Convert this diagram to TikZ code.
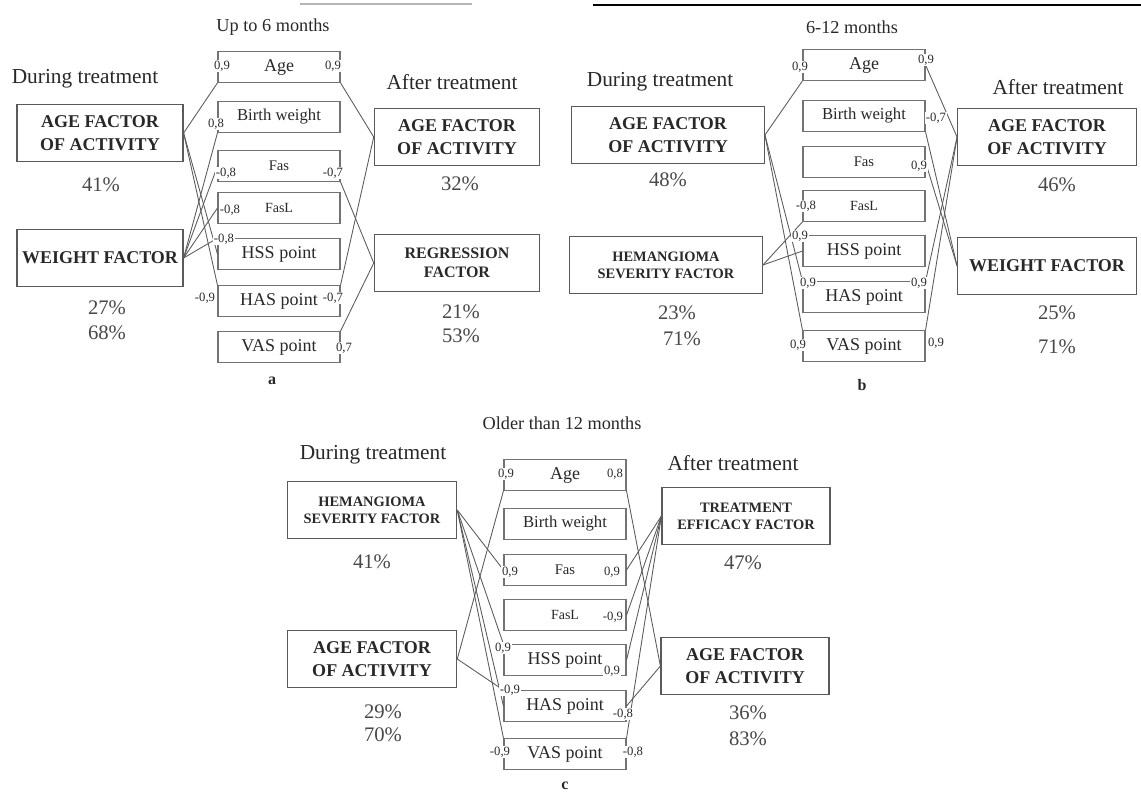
\documentclass[tikz,border=0pt]{standalone}
\usepackage{fontspec}
\setmainfont{Liberation Serif}
\usetikzlibrary{positioning}
\definecolor{inkgray}{RGB}{40,40,40}
\definecolor{linegray}{RGB}{90,90,90}

\begin{document}
\begin{tikzpicture}[
    x=0.75pt, y=-0.75pt,
    every node/.style={text=inkgray},
    fbox/.style={draw=linegray, line width=0.9pt, minimum width=#1, minimum height=43pt,
                 align=center, inner sep=2pt, font=\fontsize{13.5}{17}\selectfont\bfseries},
    item/.style={draw=linegray!85, line width=0.8pt, minimum width=91.5pt, minimum height=23pt,
                 inner sep=1pt},
    num/.style={fill=white, inner sep=0.5pt, font=\fontsize{9.5}{10}\selectfont},
    hd/.style={font=\fontsize{16}{18}\selectfont},
    sub/.style={font=\fontsize{13.7}{15}\selectfont},
    pct/.style={font=\fontsize{15.5}{16}\selectfont, text=inkgray!85},
    link/.style={draw=linegray, line width=0.65pt}
  ]
    \useasboundingbox (0,0) rectangle (1141,794);
    % Reste der vorigen Abbildung am oberen Rand
    \draw[linegray!45, line width=0.8pt] (300,4) -- (472,4);
    \draw[black, line width=2.2pt] (593,5) -- (1141,5);

    % ---- a: Up to 6 months ----
    \node[sub] (a-title) at (273,27) {Up to 6 months};
    \node[hd] (a-during) at (85,79) {During treatment};
    \node[hd] (a-after) at (452,82) {After treatment};
    \foreach \n/\y/\t/\s in {1/67/Age/13.5, 2/117/Birth weight/12.5, 3/166/Fas/11,
        4/208/FasL/10.5, 5/254/HSS point/13.5, 6/301/HAS point/13.5, 7/347/VAS point/13.5}
      \node[item, font=\fontsize{\s}{\s}\selectfont] (a\n) at (279,\y) {\t};
    \node[fbox=124.5pt] (aL1) at (100,133) {AGE FACTOR\\OF ACTIVITY};
    \node[fbox=124.5pt] (aL2) at (100,258) {WEIGHT FACTOR};
    \node[fbox=124pt] (aR1) at (457,137) {AGE FACTOR\\OF ACTIVITY};
    \node[fbox=124pt, font=\fontsize{12}{14}\selectfont\bfseries] (aR2) at (457,263) {REGRESSION\\FACTOR};
    \node[pct] (a-p1) at (101,185) {41\%};
    \node[pct] (a-p2) at (107,308) {27\%};
    \node[pct] (a-p3) at (107,333) {68\%};
    \node[pct] (a-p4) at (460,184) {32\%};
    \node[pct] (a-p5) at (461,312) {21\%};
    \node[pct] (a-p6) at (461,336) {53\%};
    \node[font=\fontsize{12}{12}\selectfont\bfseries] (a-tag) at (272,381) {a};
    \draw[link] (aL1.east) -- (a1.south west);
    \draw[link] (aL1.east) -- (a5.west);
    \draw[link] (aL1.east) -- (a6.north west);
    \draw[link] (aL2.east) -- (a2.south west);
    \draw[link] (aL2.east) -- (a3.west);
    \draw[link] (aL2.east) -- (a4.west);
    \draw[link] (aL2.east) -- (a5.north west);
    \draw[link] (a1.south east) -- (aR1.west);
    \draw[link] (a6.north east) -- (aR1.west);
    \draw[link] (a3.south east) -- (aR2.west);
    \draw[link] (a7.north east) -- (aR2.west);
    \node[num] (na1l) at (222,66) {0,9};
    \node[num] (na1r) at (333,66) {0,9};
    \node[num] (na2l) at (216,124) {0,8};
    \node[num] (na3l) at (226,173) {-0,8};
    \node[num] (na3r) at (333,173) {-0,7};
    \node[num] (na4l) at (230,210) {-0,8};
    \node[num] (na5l) at (224,239) {-0,8};
    \node[num] (na6l) at (205,298) {-0,9};
    \node[num] (na6r) at (333,298) {-0,7};
    \node[num] (na7r) at (344,348) {0,7};

    % ---- b: 6-12 months ----
    \node[sub] (b-title) at (852,27) {6-12 months};
    \node[hd] (b-during) at (660,82) {During treatment};
    \node[hd] (b-after) at (1058,87) {After treatment};
    \foreach \n/\y/\t/\s in {1/65/Age/13.5, 2/116/Birth weight/12.5, 3/162/Fas/11,
        4/206/FasL/10.5, 5/251/HSS point/13.5, 6/297/HAS point/13.5, 7/346/VAS point/13.5}
      \node[item, font=\fontsize{\s}{\s}\selectfont] (b\n) at (864,\y) {\t};
    \node[fbox=144.5pt] (bL1) at (668,135) {AGE FACTOR\\OF ACTIVITY};
    \node[fbox=144.5pt, font=\fontsize{10.8}{13}\selectfont\bfseries] (bL2) at (666,265) {HEMANGIOMA\\SEVERITY FACTOR};
    \node[fbox=134pt] (bR1) at (1047,137) {AGE FACTOR\\OF ACTIVITY};
    \node[fbox=134pt] (bR2) at (1047,266) {WEIGHT FACTOR};
    \node[pct] (b-p1) at (668,180) {48\%};
    \node[pct] (b-p2) at (677,313) {23\%};
    \node[pct] (b-p3) at (682,339) {71\%};
    \node[pct] (b-p4) at (1057,185) {46\%};
    \node[pct] (b-p5) at (1057,313) {25\%};
    \node[pct] (b-p6) at (1057,347) {71\%};
    \node[font=\fontsize{12}{12}\selectfont\bfseries] (b-tag) at (862,385) {b};
    \draw[link] (bL1.east) -- (b1.south west);
    \draw[link] (bL1.east) -- (b6.north west);
    \draw[link] (bL1.east) -- (b7.north west);
    \draw[link] (bL2.east) -- (b4.south west);
    \draw[link] (bL2.east) -- (b5.west);
    \draw[link] (b1.east) -- (bR1.west);
    \draw[link] (b6.north east) -- (bR1.west);
    \draw[link] (b7.north east) -- (bR1.west);
    \draw[link] (b2.south east) -- (bR2.west);
    \draw[link] (b3.east) -- (bR2.west);
    \node[num] (nb1l) at (800,67) {0,9};
    \node[num] (nb1r) at (926,60) {0,9};
    \node[num] (nb2r) at (936,118) {-0,7};
    \node[num] (nb3r) at (919,166) {0,9};
    \node[num] (nb4l) at (806,206) {-0,8};
    \node[num] (nb5l) at (800,236) {0,9};
    \node[num] (nb6l) at (808,283) {0,9};
    \node[num] (nb6r) at (919,283) {0,9};
    \node[num] (nb7l) at (798,345) {0,9};
    \node[num] (nb7r) at (936,343) {0,9};

    % ---- c: Older than 12 months ----
    \node[sub] (c-title) at (562,423) {Older than 12 months};
    \node[hd] (c-during) at (373,455) {During treatment};
    \node[hd] (c-after) at (733,463) {After treatment};
    \foreach \n/\y/\t/\s in {1/475/Age/13.5, 2/524/Birth weight/12.5, 3/570/Fas/11,
        4/615/FasL/10.5, 5/660/HSS point/13.5, 6/706/HAS point/13.5, 7/754/VAS point/13.5}
      \node[item, font=\fontsize{\s}{\s}\selectfont] (c\n) at (565,\y) {\t};
    \node[fbox=127pt, font=\fontsize{10.8}{13}\selectfont\bfseries] (cL1) at (372,510) {HEMANGIOMA\\SEVERITY FACTOR};
    \node[fbox=127pt] (cL2) at (372,659) {AGE FACTOR\\OF ACTIVITY};
    \node[fbox=126pt, font=\fontsize{10.8}{13}\selectfont\bfseries] (cR1) at (746,516) {TREATMENT\\EFFICACY FACTOR};
    \node[fbox=126pt] (cR2) at (745,666) {AGE FACTOR\\OF ACTIVITY};
    \node[pct] (c-p1) at (372,562) {41\%};
    \node[pct] (c-p2) at (383,712) {29\%};
    \node[pct] (c-p3) at (383,735) {70\%};
    \node[pct] (c-p4) at (743,563) {47\%};
    \node[pct] (c-p5) at (748,713) {36\%};
    \node[pct] (c-p6) at (748,739) {83\%};
    \node[font=\fontsize{12}{12}\selectfont\bfseries] (c-tag) at (565,786) {c};
    \draw[link] (cL1.east) -- (c3.west);
    \draw[link] (cL1.east) -- (c5.north west);
    \draw[link] (cL1.east) -- (c6.west);
    \draw[link] (cL1.east) -- (c7.north west);
    \draw[link] (cL2.east) -- (c1.south west);
    \draw[link] (cL2.east) -- (c6.north west);
    \draw[link] (c3.east) -- (cR1.west);
    \draw[link] (c4.east) -- (cR1.west);
    \draw[link] (c5.east) -- (cR1.west);
    \draw[link] (c7.north east) -- (cR1.west);
    \draw[link] (c1.south east) -- (cR2.west);
    \draw[link] (c6.east) -- (cR2.west);
    \node[num] (nc1l) at (506,474) {0,9};
    \node[num] (nc1r) at (615,474) {0,8};
    \node[num] (nc3l) at (510,572) {0,9};
    \node[num] (nc3r) at (612,572) {0,9};
    \node[num] (nc4r) at (613,617) {-0,9};
    \node[num] (nc5l) at (503,648) {0,9};
    \node[num] (nc5r) at (612,671) {0,9};
    \node[num] (nc6l) at (510,690) {-0,9};
    \node[num] (nc6r) at (623,714) {-0,8};
    \node[num] (nc7l) at (500,752) {-0,9};
    \node[num] (nc7r) at (633,752) {-0,8};
  \end{tikzpicture}
\end{document}
